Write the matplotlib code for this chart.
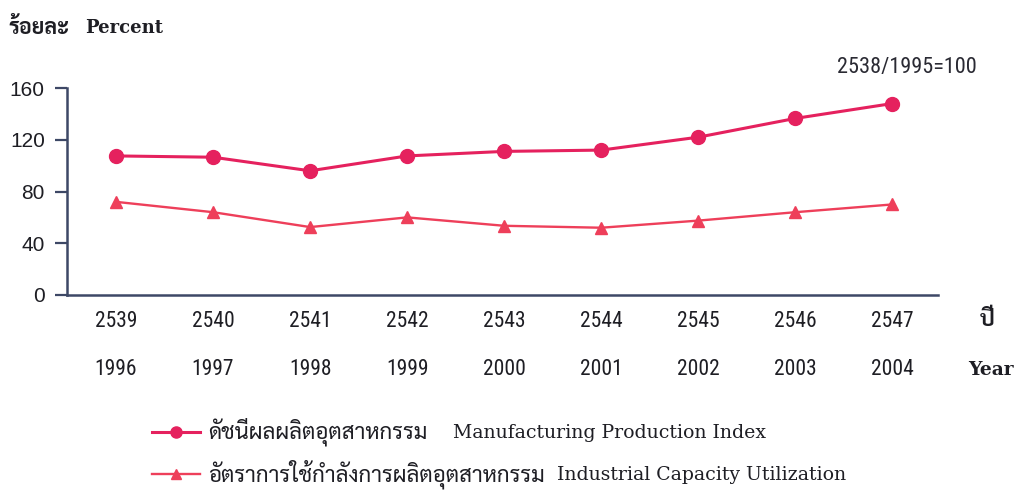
import matplotlib
matplotlib.use("Agg")
import matplotlib.pyplot as plt
from matplotlib import font_manager as fm
from matplotlib.ft2font import FT2Font
from matplotlib.lines import Line2D

# ---- data ----
years_th = ["2539", "2540", "2541", "2542", "2543", "2544", "2545", "2546", "2547"]
years_en = ["1996", "1997", "1998", "1999", "2000", "2001", "2002", "2003", "2004"]
manufacturing_index = [107.5, 106.5, 96, 107.5, 111, 112, 122, 136.5, 148]
capacity_utilization = [72, 64, 52.5, 60, 53.5, 52, 57.5, 64, 70]
yticks = [0, 40, 80, 120, 160]
label_mpi_th = "ดัชนีผลผลิตอุตสาหกรรม"
label_mpi_en = "Manufacturing Production Index"
label_icu_th = "อัตราการใช้กำลังการผลิตอุตสาหกรรม"
label_icu_en = "Industrial Capacity Utilization"

# ---- fonts ----
available = set(f.name for f in fm.fontManager.ttflist)

def pick(prefs, fallback="DejaVu Sans"):
    for p in prefs:
        if p in available:
            return p
    return fallback

thai_family = None
for pref in ["Sarabun", "Noto Sans Thai Looped", "Noto Serif Thai", "Noto Sans Thai",
             "Chonburi", "Taviraj", "Loma", "Garuda", "Norasi"]:
    if pref in available:
        thai_family = pref
        break
if thai_family is None:
    for f in fm.fontManager.ttflist:
        try:
            ft = FT2Font(f.fname)
            if ft.get_char_index(0x0E14) and ft.get_char_index(0x0E31):
                thai_family = f.name
                break
        except Exception:
            pass
if thai_family is None:
    thai_family = "DejaVu Sans"

narrow = pick(["Liberation Sans Narrow", "Roboto Condensed", "Archivo Narrow", "PT Sans Narrow",
               "Open Sans Condensed", "Arimo"])
sans = pick(["Liberation Sans", "Arimo", "DejaVu Sans"])
serif = pick(["DejaVu Serif", "Liberation Serif"], "DejaVu Serif")

W, H = 1022, 491
fig = plt.figure(figsize=(W / 100, H / 100), dpi=100)
fig.patch.set_facecolor("white")

def fx(px):
    return px / W

def fy(py):
    return 1 - py / H

ax_left, ax_right, ax_top, ax_bottom = 67, 938, 88, 295
ax = fig.add_axes([fx(ax_left), fy(ax_bottom), fx(ax_right - ax_left), (ax_bottom - ax_top) / H])

c_mpi = "#e5215e"
c_icu = "#ee3f5a"
axis_col = "#3d4866"
txt_col = "#1e1e24"

x = list(range(len(years_en)))
ax.plot(x, manufacturing_index, color=c_mpi, lw=2.2, marker="o", ms=10, mec=c_mpi, mfc=c_mpi,
        clip_on=False)
ax.plot(x, capacity_utilization, color=c_icu, lw=1.7, marker="^", ms=9, mec=c_icu, mfc=c_icu,
        clip_on=False)

ax.set_xlim(-0.505, 8.47)
ax.set_ylim(0, 160)
ax.set_yticks(yticks)
ax.set_yticklabels([str(v) for v in yticks], fontsize=15, family=sans, color=txt_col)
ax.tick_params(axis="y", length=9, width=1.6, color=axis_col, pad=7, direction="out")
ax.set_xticks([])
for s in ["top", "right"]:
    ax.spines[s].set_visible(False)
ax.spines["left"].set_color(axis_col)
ax.spines["bottom"].set_color(axis_col)
ax.spines["left"].set_linewidth(1.8)
ax.spines["bottom"].set_linewidth(1.8)
ax.set_facecolor("none")

# x labels (two rows)
for i in range(len(years_en)):
    ax.text(i, -20.5, years_th[i], ha="center", va="center", fontsize=15.5, family=narrow,
            color=txt_col, transform=ax.transData, clip_on=False)
    ax.text(i, -57.5, years_en[i], ha="center", va="center", fontsize=15.5, family=narrow,
            color=txt_col, transform=ax.transData, clip_on=False)

fig.text(fx(987), fy(320), "ปี", ha="center", va="center", fontsize=16, fontweight="bold",
         family=[thai_family, "DejaVu Sans"], color=txt_col)
fig.text(fx(991), fy(370), "Year", ha="center", va="center", fontsize=13.5, fontweight="bold",
         family=serif, color=txt_col)

# title texts
fig.text(fx(8), fy(29), "ร้อยละ", ha="left", va="center", fontsize=15.5, fontweight="bold",
         family=[thai_family, "DejaVu Sans"], color=txt_col)
fig.text(fx(85), fy(28), "Percent", ha="left", va="center", fontsize=13, fontweight="bold",
         family=serif, color=txt_col)
fig.text(fx(907), fy(67), "2538/1995=100", ha="center", va="center", fontsize=16,
         family=narrow, color="#2a2a33")

# legend
leg_items = [
    (432, c_mpi, "o", 10, 2.2, label_mpi_th, label_mpi_en, 453),
    (474, c_icu, "^", 9, 1.7, label_icu_th, label_icu_en, 557),
]
for (py, col, mk, ms, lw, th, en, en_x) in leg_items:
    line = Line2D([fx(152), fx(200)], [fy(py), fy(py)], color=col, lw=lw, transform=fig.transFigure)
    fig.add_artist(line)
    mark = Line2D([fx(176)], [fy(py)], color=col, marker=mk, ms=ms * 0.8, mec=col, mfc=col,
                  transform=fig.transFigure)
    fig.add_artist(mark)
    fig.text(fx(208), fy(py), th, ha="left", va="center", fontsize=16,
             family=[thai_family, "DejaVu Sans"], color=txt_col)
    fig.text(fx(en_x), fy(py + 1), en, ha="left", va="center", fontsize=13.6,
             family=serif, color=txt_col)

fig.savefig("out.png", dpi=100, facecolor="white")
